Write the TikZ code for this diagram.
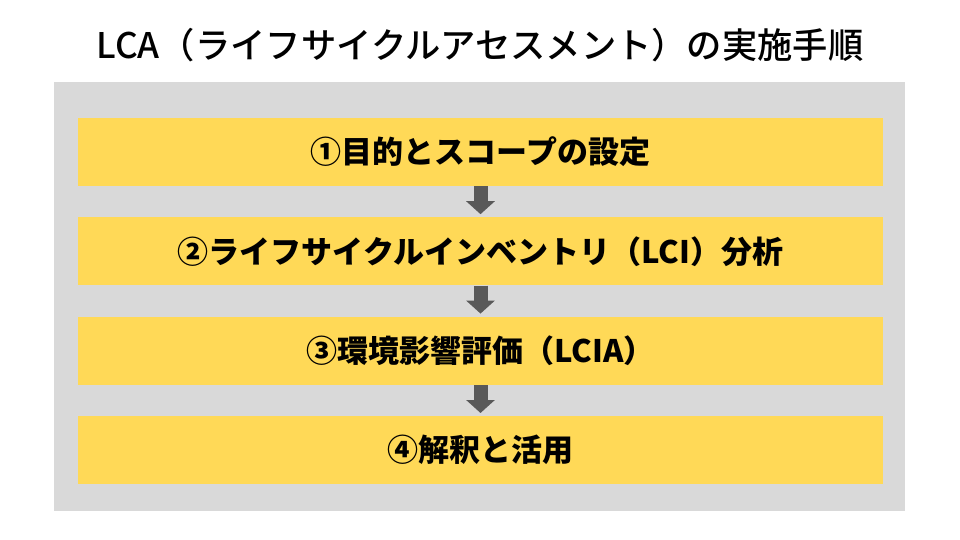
\documentclass[tikz,border=0pt]{standalone}
\usepackage{fontspec}
\setmainfont{Noto Sans CJK JP}
\newfontfamily\titlefont{Noto Sans CJK JP Medium}
\usepackage{xcolor}
\usepackage{tikz}
\usetikzlibrary{arrows.meta,positioning}

\definecolor{panelgray}{RGB}{217,217,217}
\definecolor{stepyellow}{RGB}{255,217,87}
\definecolor{arrowgray}{RGB}{89,89,89}

\begin{document}
\begin{tikzpicture}[x=1pt,y=-1pt,node distance=31pt,
		stepbox/.style={fill=stepyellow,minimum width=805pt,minimum height=68pt,inner sep=0pt,font=\bfseries\fontsize{31}{35}\selectfont},
		flow/.style={arrowgray,line width=14pt,-{Triangle[length=13pt,width=28pt]}}]
		\useasboundingbox (0,0) rectangle (960,540);
		\fill[white] (0,0) rectangle (960,540);
		\node[font=\titlefont\fontsize{35.3}{40}\selectfont] (title) at (480,45) {LCA（ライフサイクルアセスメント）の実施手順};
		\fill[panelgray] (54,82) rectangle (905,511);
		\node[stepbox] (s1) at (480.5,152) {①目的とスコープの設定};
		\node[stepbox,below=of s1] (s2) {②ライフサイクルインベントリ（LCI）分析};
		\node[stepbox,below=of s2] (s3) {③環境影響評価（LCIA）};
		\node[stepbox,below=of s3] (s4) {④解釈と活用};
		\draw[flow] (s1.south) -- ([yshift=3pt]s2.north);
		\draw[flow] (s2.south) -- ([yshift=3pt]s3.north);
		\draw[flow] (s3.south) -- ([yshift=3pt]s4.north);
		\end{tikzpicture}
\end{document}
